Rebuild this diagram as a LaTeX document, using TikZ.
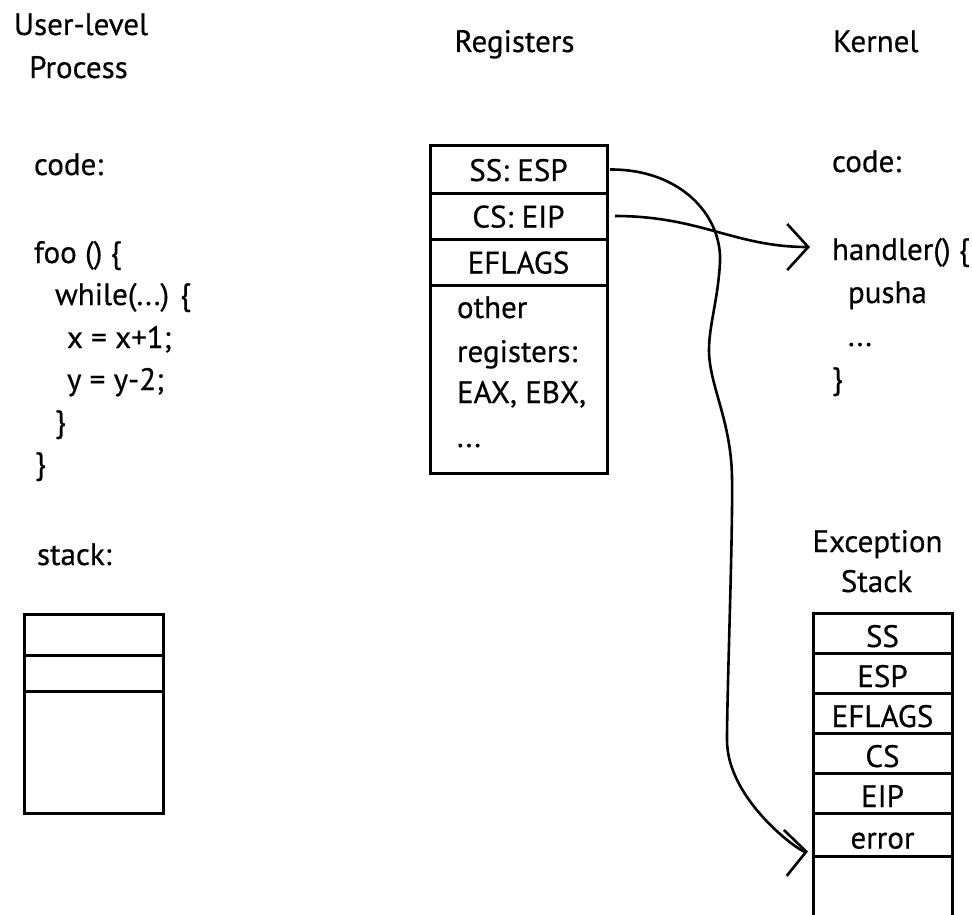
\documentclass[tikz,border=0pt]{standalone}
\usepackage{fontspec}
\setmainfont{PT Sans}[FakeBold=0.5]
\usetikzlibrary{arrows.meta}
\begin{document}
\begin{tikzpicture}[x=1pt,y=-1pt,
  every node/.style={font=\fontsize{31}{43}\selectfont, inner sep=0pt, outer sep=0pt},
  txt/.style={anchor=base west},
  ctxt/.style={anchor=base},
  regcell/.style={draw, line width=3pt, minimum width=177pt, text height=23pt, text depth=0pt},
  exccell/.style={draw, line width=3pt, minimum width=139pt, text height=28pt, text depth=0pt},
  ustack/.style={draw, line width=3pt, minimum width=139pt},
  frame/.style={line width=3pt},
  conn/.style={line width=2.6pt, -{Straight Barb[length=21pt, width=46pt]}}]
\useasboundingbox (0,0) rectangle (972,915);

% titles
\node[ctxt] (usr1) at (81,35) {User-level};
\node[ctxt] (usr2) at (78.5,78) {Process};
\node[ctxt] (regt) at (514.5,52) {Registers};
\node[txt] (kern) at (833,52) {Kernel};

% user-level code
\node[txt] (codeL) at (34,175) {code:};
\node[txt] (foo) at (34,263) {foo () \{};
\node[txt] (wh) at (55,305) {while(...) \{};
\node[txt] (xl) at (67,348) {x = x+1;};
\node[txt] (yl) at (67,390) {y = y-2;};
\node[txt] (cb1) at (55,432) {\}};
\node[txt] (cb2) at (35,474) {\}};
\node[txt] (stk) at (37,565) {stack:};

% user stack
\node[ustack, minimum height=41pt] (us1) at (93.5,634.5) {};
\node[ustack, minimum height=36pt] (us2) at (93.5,673) {};
\node[ustack, minimum height=122pt] (us3) at (93.5,752) {};

% registers
\node[regcell, minimum height=47pt] (ss) at (518.5,169.5) {SS: ESP};
\node[regcell, minimum height=46pt] (cs) at (518.5,216) {CS: EIP};
\node[regcell, minimum height=46pt] (efl) at (518.5,262) {EFLAGS};
\node[regcell, minimum height=188pt] (oth) at (518.5,379) {};
\node[txt] (o1) at (457,318) {other};
\node[txt] (o2) at (457,362) {registers:};
\node[txt] (o3) at (457,403) {EAX, EBX,};
\node[txt] (o4) at (457,447) {...};

% kernel code
\node[txt] (codeR) at (832,172) {code:};
\node[txt] (handler) at (832,260) {handler() \{};
\node[txt] (pusha) at (848,303) {pusha};
\node[txt] (kdots) at (848,346) {...};
\node[txt] (kcb) at (832,389) {\}};

% exception stack
\node[ctxt] (ex1) at (877.5,552) {Exception};
\node[ctxt] (ex2) at (876.5,592) {Stack};
\node[exccell, minimum height=40pt] (ess) at (882.5,633) {SS};
\node[exccell, minimum height=40pt] (eesp) at (882.5,673) {ESP};
\node[exccell, minimum height=40pt] (eefl) at (882.5,713) {EFLAGS};
\node[exccell, minimum height=40pt] (ecs) at (882.5,753) {CS};
\node[exccell, minimum height=40pt] (eeip) at (882.5,793) {EIP};
\node[exccell, minimum height=43pt] (err) at (882.5,834.5) {error};
\draw[frame] (err.south west) -- ++(0,62);
\draw[frame] (err.south east) -- ++(0,62);

% connectors
\draw[conn] ([xshift=3pt]ss.east) .. controls (680,169) and (722,215) .. (720,262)
  .. controls (718,300) and (709,325) .. (709,350)
  .. controls (709,385) and (731,420) .. (732,477)
  .. controls (733,534) and (727,690) .. (727,740)
  .. controls (727,800) and (800,852) .. ([xshift=-5pt,yshift=-17pt]err.west);
\draw[conn] ([xshift=8pt]cs.east) .. controls (700,216) and (735,247) .. ([xshift=-22pt,yshift=13pt]handler.base west);
\end{tikzpicture}
\end{document}
